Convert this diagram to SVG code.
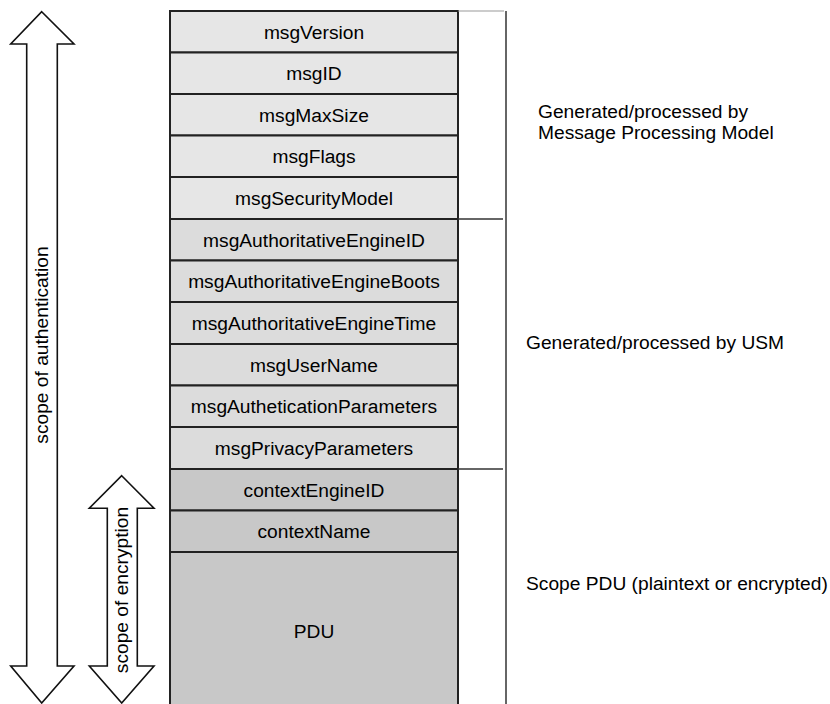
<svg xmlns="http://www.w3.org/2000/svg" width="830" height="704" viewBox="0 0 830 704">
<style>
.t{font-family:"Liberation Sans",Arial,sans-serif;font-size:19.2px;fill:#000;text-anchor:middle}
.l{font-family:"Liberation Sans",Arial,sans-serif;font-size:19.2px;fill:#000}
.a{fill:#e6e6e6;stroke:#222;stroke-width:2}
.b{fill:#dcdcdc;stroke:#222;stroke-width:2}
.c{fill:#c8c8c8;stroke:#222;stroke-width:2}
.arr{fill:#fff;stroke:#111;stroke-width:1.6;stroke-linejoin:miter}
.br{stroke:#333;stroke-width:1.5;fill:none}
</style>
<rect width="830" height="704" fill="#fff"/>
<g id="arrow-auth">
<polygon class="arr" points="41.7,11.7 74,44 57.3,44 57.3,666 74,666 41.7,703 10.7,666 26.7,666 26.7,44 10.7,44"/>
<text class="t" transform="translate(48,345) rotate(-90)">scope of authentication</text>
</g>
<g id="arrow-enc">
<polygon class="arr" points="121.7,475.7 154,508.3 137.3,508.3 137.3,666 154,666 121.7,703 89.3,666 107.3,666 107.3,508.3 89.3,508.3"/>
<text class="t" transform="translate(128,590) rotate(-90)">scope of encryption</text>
</g>
<g id="msgVersion"><rect class="a" x="170" y="11" width="288" height="41.5"/><text class="t" x="314" y="38.5">msgVersion</text></g>
<g id="msgID"><rect class="a" x="170" y="52.5" width="288" height="41.5"/><text class="t" x="314" y="80">msgID</text></g>
<g id="msgMaxSize"><rect class="a" x="170" y="94" width="288" height="41.5"/><text class="t" x="314" y="121.5">msgMaxSize</text></g>
<g id="msgFlags"><rect class="a" x="170" y="135.5" width="288" height="41.5"/><text class="t" x="314" y="163">msgFlags</text></g>
<g id="msgSecurityModel"><rect class="a" x="170" y="177" width="288" height="42"/><text class="t" x="314" y="204.5">msgSecurityModel</text></g>
<g id="msgAuthoritativeEngineID"><rect class="b" x="170" y="219" width="288" height="41.5"/><text class="t" x="314" y="246.5">msgAuthoritativeEngineID</text></g>
<g id="msgAuthoritativeEngineBoots"><rect class="b" x="170" y="260.5" width="288" height="41.5"/><text class="t" x="314" y="288">msgAuthoritativeEngineBoots</text></g>
<g id="msgAuthoritativeEngineTime"><rect class="b" x="170" y="302" width="288" height="42"/><text class="t" x="314" y="329.5">msgAuthoritativeEngineTime</text></g>
<g id="msgUserName"><rect class="b" x="170" y="344" width="288" height="41.5"/><text class="t" x="314" y="371.5">msgUserName</text></g>
<g id="msgAutheticationParameters"><rect class="b" x="170" y="385.5" width="288" height="41.5"/><text class="t" x="314" y="413">msgAutheticationParameters</text></g>
<g id="msgPrivacyParameters"><rect class="b" x="170" y="427" width="288" height="42"/><text class="t" x="314" y="454.5">msgPrivacyParameters</text></g>
<g id="contextEngineID"><rect class="c" x="170" y="469" width="288" height="41.5"/><text class="t" x="314" y="496.5">contextEngineID</text></g>
<g id="contextName"><rect class="c" x="170" y="510.5" width="288" height="41.5"/><text class="t" x="314" y="538">contextName</text></g>
<g id="PDU"><rect class="c" x="170" y="552" width="288" height="160"/><text class="t" x="314" y="638">PDU</text></g>
<g id="connectors">
<line class="br" x1="506" y1="11" x2="506" y2="704"/>
<line x1="458" y1="11" x2="504" y2="11" stroke="#999" stroke-width="1"/>
<line class="br" x1="458" y1="219" x2="503" y2="219"/>
<line class="br" x1="458" y1="469" x2="503" y2="469"/>
</g>
<g id="labels">
<text class="l" x="538" y="118">Generated/processed by</text>
<text class="l" x="538" y="139">Message Processing Model</text>
<text class="l" x="526" y="349">Generated/processed by USM</text>
<text class="l" x="526" y="590">Scope PDU (plaintext or encrypted)</text>
</g>
</svg>
